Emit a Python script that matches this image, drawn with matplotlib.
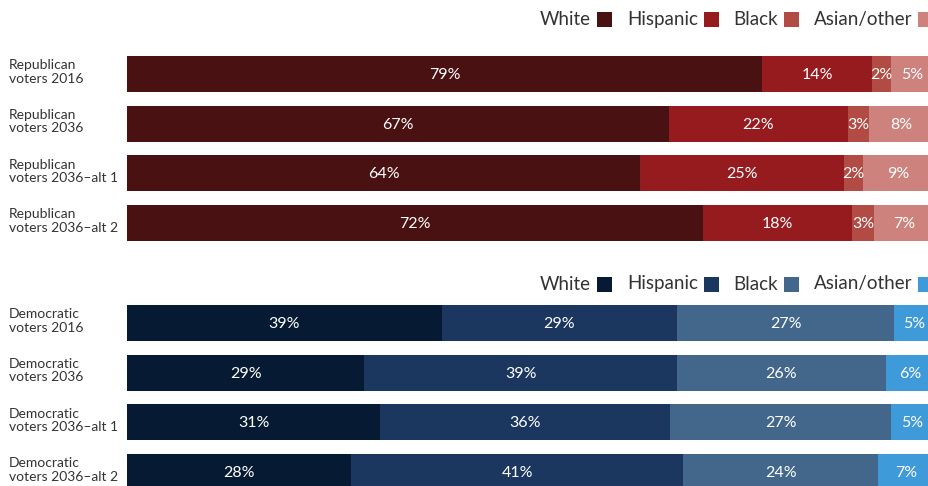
import matplotlib
matplotlib.use("Agg")
import matplotlib.pyplot as plt
from matplotlib.patches import Rectangle

plt.rcParams['font.family'] = ['Lato', 'DejaVu Sans']

categories = ["White", "Hispanic", "Black", "Asian/other"]

rep_rows = ["Republican\nvoters 2016", "Republican\nvoters 2036",
            "Republican\nvoters 2036\u2013alt 1", "Republican\nvoters 2036\u2013alt 2"]
rep_white = [78.7, 67.2, 63.6, 71.4]
rep_hispanic = [13.6, 22.1, 25.2, 18.4]
rep_black = [2.4, 2.6, 2.4, 2.8]
rep_asian = [5.3, 8.1, 8.8, 7.4]
rep_labels = [["79%", "14%", "2%", "5%"], ["67%", "22%", "3%", "8%"],
              ["64%", "25%", "2%", "9%"], ["72%", "18%", "3%", "7%"]]

dem_rows = ["Democratic\nvoters 2016", "Democratic\nvoters 2036",
            "Democratic\nvoters 2036\u2013alt 1", "Democratic\nvoters 2036\u2013alt 2"]
dem_white = [39.0, 29.4, 31.4, 27.8]
dem_hispanic = [29.1, 38.8, 35.9, 41.1]
dem_black = [27.0, 25.8, 27.4, 24.2]
dem_asian = [4.9, 6.0, 5.3, 6.9]
dem_labels = [["39%", "29%", "27%", "5%"], ["29%", "39%", "26%", "6%"],
              ["31%", "36%", "27%", "5%"], ["28%", "41%", "24%", "7%"]]

rep_colors = ["#4a1113", "#961b1f", "#b14b43", "#cd827d"]
dem_colors = ["#061b33", "#1b365f", "#42678b", "#3e9ad8"]

W, H = 929, 486
fig = plt.figure(figsize=(W / 100, H / 100), dpi=100)
fig.patch.set_facecolor("white")

text_color = "#333333"
pitch = 49.7
bar_h = 36 / pitch


def panel(top_center, rows, series, labels, colors):
    top = top_center - pitch / 2
    height = 4 * pitch
    left = 127
    width = 807
    ax = fig.add_axes([left / W, (H - top - height) / H, width / W, height / H])
    ax.set_xlim(0, 100)
    ax.set_ylim(3.5, -0.5)
    ax.axis("off")
    lefts = [0.0] * len(rows)
    for j, vals in enumerate(series):
        ax.barh(range(len(rows)), vals, left=lefts, height=bar_h,
                color=colors[j], linewidth=0)
        for i, v in enumerate(vals):
            ax.text(lefts[i] + v / 2, i + 0.02, labels[i][j], ha="center", va="center",
                    color="white", fontsize=11.5)
        lefts = [a + b for a, b in zip(lefts, vals)]
    for i, r in enumerate(rows):
        ax.text(-118 / 8.07, i - 0.04, r, ha="left", va="center", color=text_color,
                fontsize=10, linespacing=1.15, transform=ax.transData)
    return ax


panel(74, rep_rows, [rep_white, rep_hispanic, rep_black, rep_asian], rep_labels, rep_colors)
panel(323, dem_rows, [dem_white, dem_hispanic, dem_black, dem_asian], dem_labels, dem_colors)


def legend(y_center, colors):
    sq_lefts = [597, 704, 784, 918]
    size = 15
    for name, x, c in zip(categories, sq_lefts, colors):
        fig.patches.append(Rectangle((x / W, (H - y_center - size / 2) / H), size / W, size / H,
                                     transform=fig.transFigure, color=c, linewidth=0))
        fig.text((x - 6) / W, (H - y_center) / H, name, ha="right", va="center",
                 color=text_color, fontsize=13.5)


legend(19.5, rep_colors)
legend(284, dem_colors)

fig.savefig("out.png", dpi=100)
